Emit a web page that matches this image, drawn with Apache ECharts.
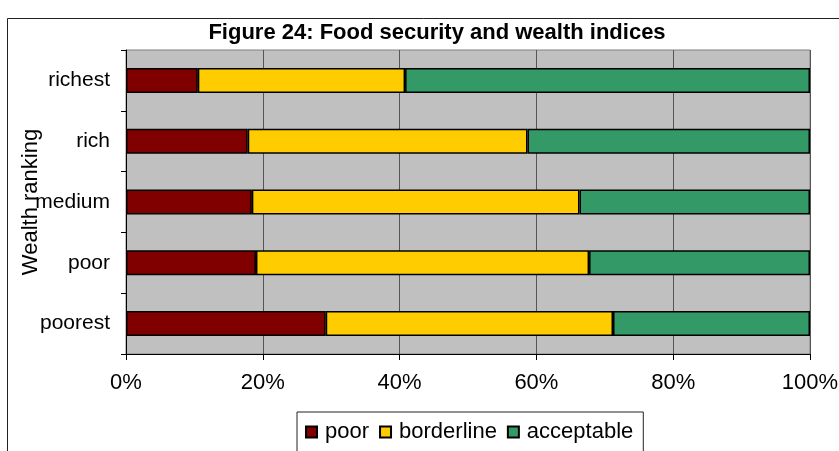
<!DOCTYPE html>
<html>
<head>
<meta charset="utf-8">
<script src="https://cdn.jsdelivr.net/npm/echarts@6/dist/echarts.min.js"></script>
<style>html,body{margin:0;padding:0;background:#fff}#c{width:839px;height:451px}</style>
</head>
<body>
<div id="c"></div>
<script>
const categories = ['richest', 'rich', 'medium', 'poor', 'poorest'];
const poorValues = [10.5, 17.8, 18.4, 19.0, 29.2];
const borderlineValues = [30.3, 40.9, 47.9, 48.7, 42.0];
const acceptableValues = [59.2, 41.3, 33.7, 32.3, 28.8];
const seriesNames = ['poor', 'borderline', 'acceptable'];
const seriesColors = ['#800000', '#FFCC00', '#339966'];

const chart = echarts.init(document.getElementById('c'));
const FONT = 'Liberation Sans, Arial, sans-serif';
const dataSets = [poorValues, borderlineValues, acceptableValues];
chart.setOption({
  animation: false,
  textStyle: { fontFamily: FONT },
  title: {
    text: 'Figure 24: Food security and wealth indices',
    left: 432, top: 17, textAlign: 'center',
    textStyle: { fontFamily: FONT, fontSize: 22, fontWeight: 'bold', color: '#000' }
  },
  graphic: [{
    type: 'rect', left: 5, top: 16, z: -1,
    shape: { width: 845, height: 450 },
    style: { fill: 'none', stroke: '#222', lineWidth: 1 }
  }],
  grid: {
    left: 126, right: 29, top: 50, bottom: 97,
    containLabel: false, outerBoundsMode: 'none',
    show: true, backgroundColor: '#C0C0C0', borderColor: '#808080', borderWidth: 1
  },
  legend: {
    left: 297, top: 412, width: 345,
    data: seriesNames,
    borderColor: '#222', borderWidth: 1,
    padding: [9, 10, 20, 8],
    itemWidth: 11, itemHeight: 11, itemGap: 10,
    icon: 'rect',
    textStyle: { fontFamily: FONT, fontSize: 22, color: '#000', padding: [0, 0, 0, 3] }
  },
  xAxis: {
    type: 'value', min: 0, max: 100, interval: 20,
    axisLabel: { formatter: '{value}%', fontSize: 22, color: '#000', margin: 18 },
    axisLine: { show: true, lineStyle: { color: '#000', width: 1 } },
    axisTick: { show: true, length: 6, lineStyle: { color: '#000' } },
    splitLine: { show: true, lineStyle: { color: '#555', width: 1 } }
  },
  yAxis: {
    type: 'category', data: categories, inverse: true,
    name: 'Wealth ranking', nameLocation: 'middle', nameGap: 84, nameRotate: 90,
    nameMoveOverlap: false,
    nameTextStyle: { fontSize: 22, color: '#000' },
    axisLabel: { fontSize: 21, color: '#000', margin: 16 },
    axisLine: { show: true, lineStyle: { color: '#000', width: 1 } },
    axisTick: { show: true, length: 5, lineStyle: { color: '#000' } }
  },
  series: seriesNames.map((n, i) => ({
    name: n, type: 'bar', stack: 'total',
    data: dataSets[i],
    barWidth: 25,
    itemStyle: { color: seriesColors[i], borderColor: '#000', borderWidth: 1.5 }
  }))
});
</script>
</body>
</html>
